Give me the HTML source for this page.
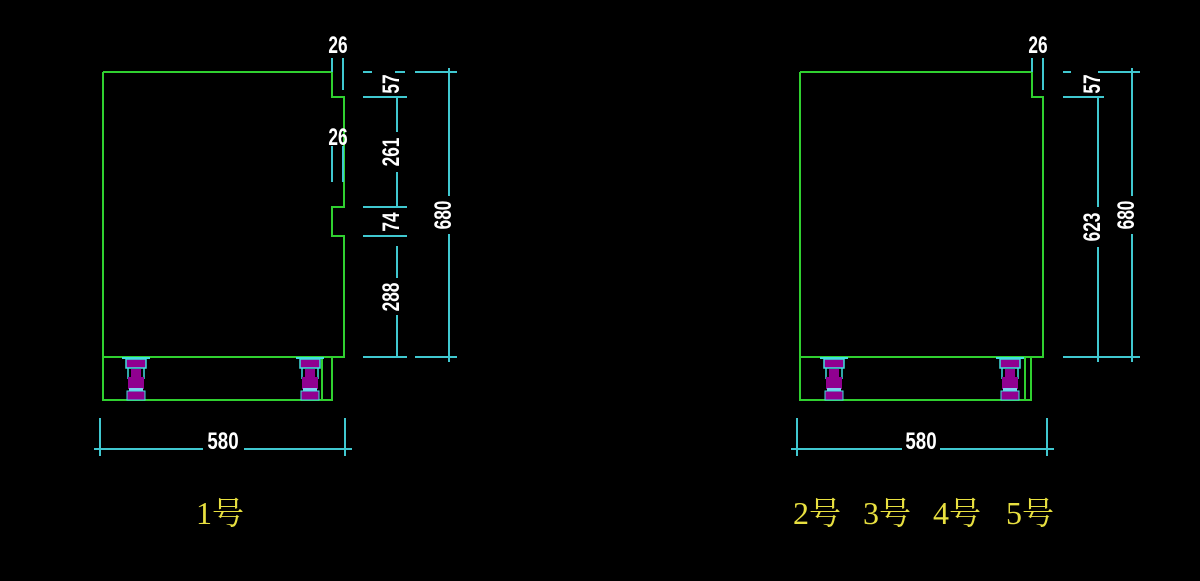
<!DOCTYPE html>
<html><head><style>
html,body{margin:0;padding:0;background:#000;}
svg{display:block}
.t{fill:#fff;font-family:"Liberation Sans",sans-serif;font-size:24px;font-weight:bold;}
.y{fill:#e8e040;font-family:"Liberation Serif","Noto Serif CJK SC",serif;font-size:32px;}
</style></head><body>
<svg width="1200" height="581" viewBox="0 0 1200 581" xmlns="http://www.w3.org/2000/svg">
<defs>
<g id="foot">
  <rect x="0" y="0" width="28" height="2" fill="#40e0e0"/>
  <rect x="4" y="2" width="20" height="9" fill="#900090" stroke="#40e0e0" stroke-width="1.5"/>
  <line x1="6" y1="11" x2="6" y2="22" stroke="#40e0e0" stroke-width="1.5"/>
  <line x1="22" y1="11" x2="22" y2="22" stroke="#40e0e0" stroke-width="1.5"/>
  <rect x="9" y="12" width="10" height="20" fill="#900090"/>
  <rect x="6" y="20" width="16" height="12" fill="#900090"/>
  <rect x="7" y="31" width="14" height="3" fill="#80d0f0"/>
  <rect x="5" y="34" width="18" height="9" fill="#900090" stroke="#40e0e0" stroke-width="1"/>
</g>
</defs>
<g fill="none" stroke-width="2">
<polyline stroke="#30d030" points="103,72 332,72 332,97 344,97 344,207 332,207 332,236 344,236 344,357 103,357 103,72"/>
<polyline stroke="#30d030" points="103,357 103,400 332,400 332,357"/>
<line stroke="#30d030" x1="322" y1="357" x2="322" y2="400"/>
<polyline stroke="#30d030" points="800,72 1032,72 1032,97 1043,97 1043,357 800,357 800,72"/>
<polyline stroke="#30d030" points="800,357 800,400 1031,400 1031,357"/>
<line stroke="#30d030" x1="1025" y1="357" x2="1025" y2="400"/>
</g>
<use href="#foot" x="122" y="357"/>
<use href="#foot" x="296" y="357"/>
<use href="#foot" x="820" y="357"/>
<use href="#foot" x="996" y="357"/>
<g stroke="#40c8d0" stroke-width="2" fill="none">
<line x1="332" y1="58" x2="332" y2="72"/><line x1="343" y1="58" x2="343" y2="90"/>
<line x1="332" y1="146" x2="332" y2="182"/><line x1="343" y1="146" x2="343" y2="182"/>
<line x1="363" y1="72" x2="372" y2="72"/><line x1="395" y1="72" x2="405" y2="72"/>
<line x1="415" y1="72" x2="457" y2="72"/>
<line x1="363" y1="97" x2="407" y2="97"/>
<line x1="363" y1="207" x2="407" y2="207"/>
<line x1="363" y1="236" x2="407" y2="236"/>
<line x1="363" y1="357" x2="407" y2="357"/><line x1="415" y1="357" x2="457" y2="357"/>
<line x1="397" y1="97" x2="397" y2="132"/><line x1="397" y1="172" x2="397" y2="207"/>
<line x1="397" y1="246" x2="397" y2="278"/><line x1="397" y1="315" x2="397" y2="357"/>
<line x1="449" y1="68" x2="449" y2="196"/><line x1="449" y1="234" x2="449" y2="362"/>
<line x1="100" y1="418" x2="100" y2="456"/><line x1="345" y1="418" x2="345" y2="456"/>
<line x1="94" y1="449" x2="203" y2="449"/><line x1="244" y1="449" x2="352" y2="449"/>
<line x1="1032" y1="58" x2="1032" y2="72"/><line x1="1043" y1="58" x2="1043" y2="90"/>
<line x1="1063" y1="72" x2="1071" y2="72"/><line x1="1098" y1="72" x2="1140" y2="72"/>
<line x1="1063" y1="97" x2="1104" y2="97"/>
<line x1="1063" y1="357" x2="1140" y2="357"/>
<line x1="1098" y1="97" x2="1098" y2="207"/><line x1="1098" y1="247" x2="1098" y2="362"/>
<line x1="1132" y1="68" x2="1132" y2="196"/><line x1="1132" y1="234" x2="1132" y2="362"/>
<line x1="797" y1="418" x2="797" y2="456"/><line x1="1047" y1="418" x2="1047" y2="456"/>
<line x1="791" y1="449" x2="902" y2="449"/><line x1="940" y1="449" x2="1054" y2="449"/>
</g>
<g class="t">
<text transform="translate(338,53) scale(0.72,1)" text-anchor="middle">26</text>
<text transform="translate(338,145) scale(0.72,1)" text-anchor="middle">26</text>
<text transform="translate(1038,53) scale(0.72,1)" text-anchor="middle">26</text>
<text transform="translate(399,84) rotate(-90) scale(0.72,1)" text-anchor="middle">57</text>
<text transform="translate(399,152) rotate(-90) scale(0.72,1)" text-anchor="middle">261</text>
<text transform="translate(399,222) rotate(-90) scale(0.72,1)" text-anchor="middle">74</text>
<text transform="translate(399,297) rotate(-90) scale(0.72,1)" text-anchor="middle">288</text>
<text transform="translate(451,215) rotate(-90) scale(0.72,1)" text-anchor="middle">680</text>
<text transform="translate(1100,84) rotate(-90) scale(0.72,1)" text-anchor="middle">57</text>
<text transform="translate(1100,227) rotate(-90) scale(0.72,1)" text-anchor="middle">623</text>
<text transform="translate(1134,215) rotate(-90) scale(0.72,1)" text-anchor="middle">680</text>
<text transform="translate(223,449) scale(0.78,1)" text-anchor="middle">580</text>
<text transform="translate(921,449) scale(0.78,1)" text-anchor="middle">580</text>
</g>
<text class="y" x="196" y="524">1号</text>
<text class="y" x="793" y="524">2号</text>
<text class="y" x="863" y="524">3号</text>
<text class="y" x="933" y="524">4号</text>
<text class="y" x="1006" y="524">5号</text>
</svg>
</body></html>
